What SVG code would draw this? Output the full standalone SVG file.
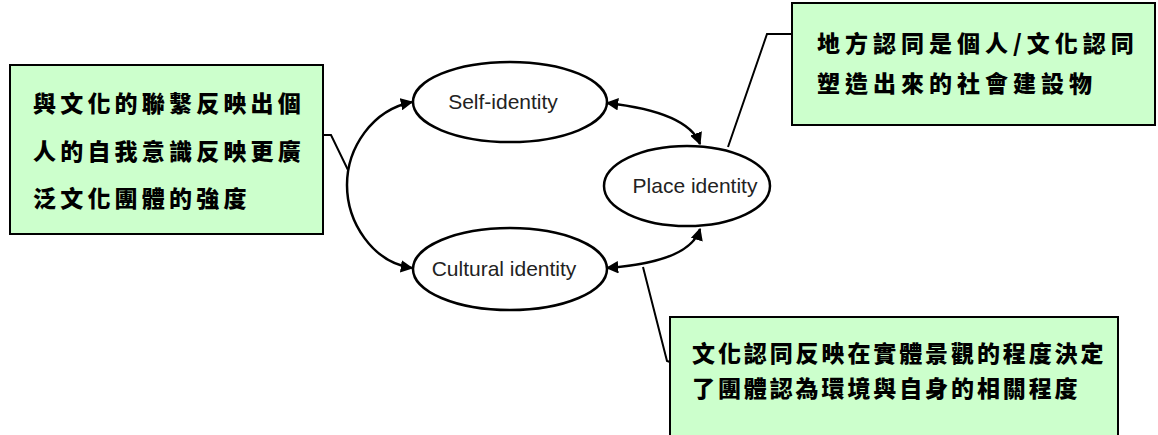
<svg xmlns="http://www.w3.org/2000/svg" width="1158" height="435" viewBox="0 0 1158 435">
<style>
.note{fill:#CCFFCC;stroke:#000;stroke-width:2}
.cjk{font-family:"Noto Sans CJK TC","Noto Sans CJK SC",sans-serif;font-size:23px;font-weight:900;fill:#000}
.ell{fill:#fff;stroke:#000;stroke-width:2.5}
.lbl{font-family:"Liberation Sans",Arial,sans-serif;font-size:21px;fill:#222;text-anchor:middle}
.arr{fill:none;stroke:#000;stroke-width:2.5;marker-start:url(#ah);marker-end:url(#ah)}
.lead{fill:none;stroke:#000;stroke-width:2}
</style>
<defs>
<marker id="ah" viewBox="0 0 10 10" refX="9" refY="5" markerWidth="5" markerHeight="5" orient="auto-start-reverse" markerUnits="strokeWidth">
<path d="M0,0 L10,5 L0,10 z" fill="#000"/>
</marker>
</defs>
<rect width="1158" height="435" fill="#fff"/>
<g id="connectors">
<path class="arr" d="M412,102 C372,110 347,148 347,185 C347,222 372,262 412,268"/>
<path class="arr" d="M607,103 Q688,112 700,144"/>
<path class="arr" d="M607,268 Q690,262 700,229"/>
<path class="lead" d="M323,135 L331,135 L348,170"/>
<path class="lead" d="M792,34 L767,34 L728,147"/>
<path class="lead" d="M643,267 L667,361 L670,362"/>
</g>
<g id="self-identity">
<ellipse class="ell" cx="510" cy="102" rx="97" ry="40"/>
<text class="lbl" x="503" y="109">Self-identity</text>
</g>
<g id="place-identity">
<ellipse class="ell" cx="687" cy="186" rx="83" ry="40"/>
<text class="lbl" x="695" y="193">Place identity</text>
</g>
<g id="cultural-identity">
<ellipse class="ell" cx="510" cy="269" rx="97" ry="41"/>
<text class="lbl" x="504" y="276">Cultural identity</text>
</g>
<g id="note-left">
<rect class="note" x="10" y="65" width="313" height="169"/>
<text class="cjk" x="33" y="112" letter-spacing="4.2">與文化的聯繫反映出個</text>
<text class="cjk" x="33" y="159.5" letter-spacing="4.2">人的自我意識反映更廣</text>
<text class="cjk" x="33" y="206.5" letter-spacing="4.2">泛文化團體的強度</text>
</g>
<g id="note-top-right">
<rect class="note" x="792" y="3" width="363" height="122"/>
<text class="cjk" x="817" y="52" letter-spacing="5">地方認同是個人/文化認同</text>
<text class="cjk" x="817" y="92" letter-spacing="5">塑造出來的社會建設物</text>
</g>
<g id="note-bottom-right">
<rect class="note" x="670" y="317" width="448" height="130"/>
<text class="cjk" x="692" y="362" letter-spacing="2.9">文化認同反映在實體景觀的程度決定</text>
<text class="cjk" x="692" y="397" letter-spacing="2.9">了團體認為環境與自身的相關程度</text>
</g>
</svg>
